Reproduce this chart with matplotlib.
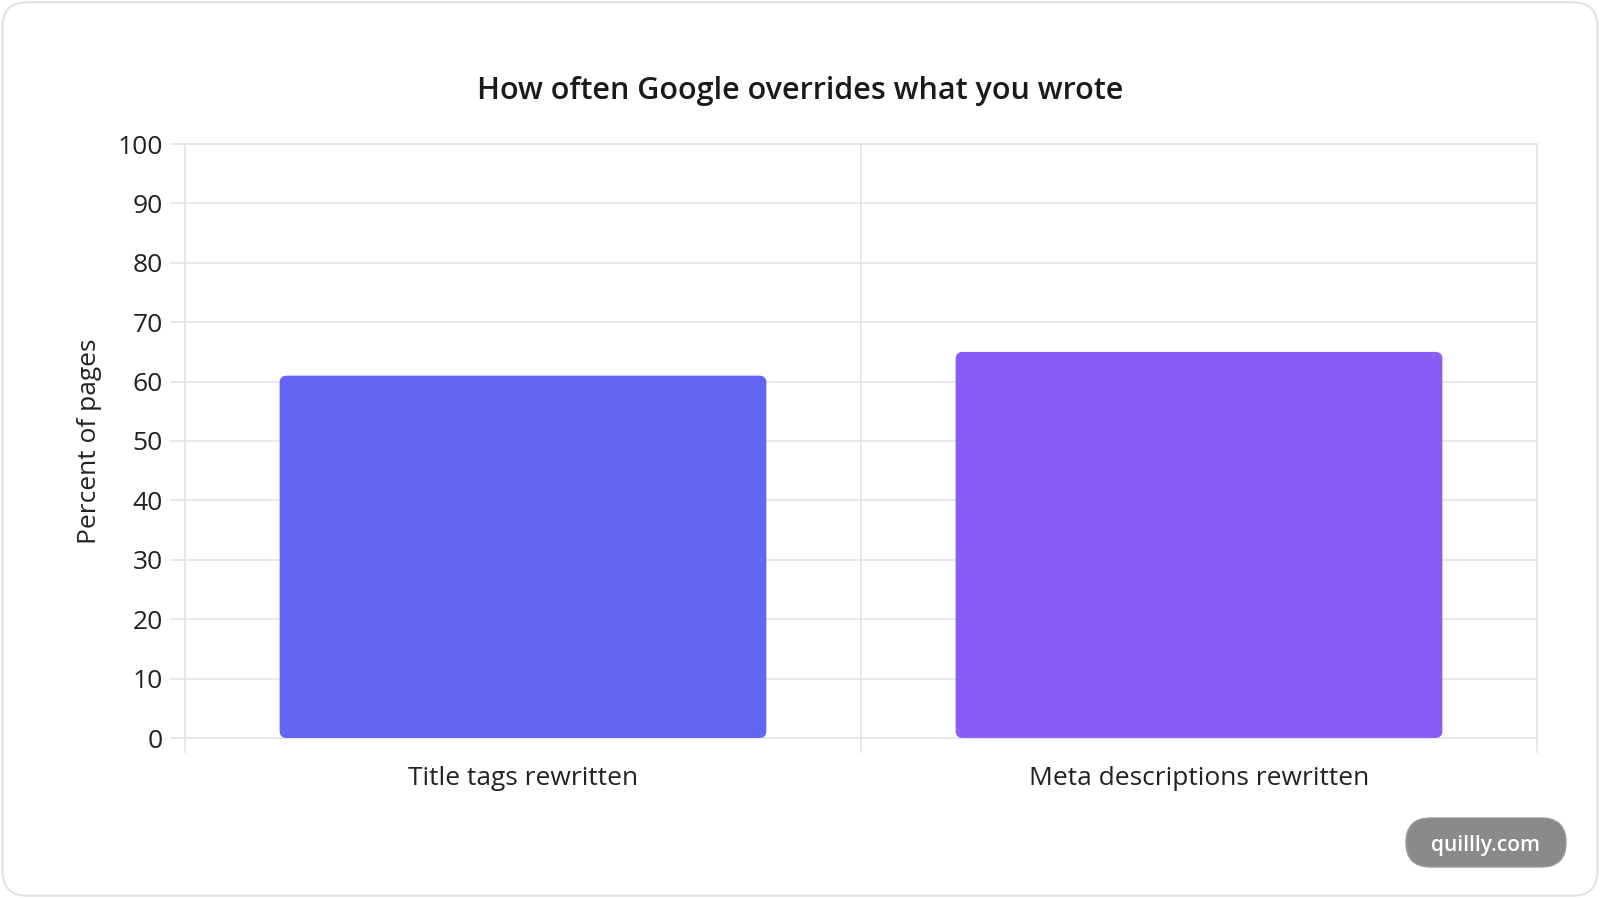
import matplotlib
matplotlib.use("Agg")
import matplotlib.pyplot as plt
from matplotlib.patches import FancyBboxPatch
import numpy as np

plt.rcParams['font.family'] = ['Open Sans', 'DejaVu Sans']

categories = ['Title tags rewritten', 'Meta descriptions rewritten']
values = [61, 65]
colors = ['#6366F1', '#8B5CF6']
yticks = list(range(0, 101, 10))

W, H = 1600, 898
fig = plt.figure(figsize=(W / 100, H / 100), dpi=100)

# card border
fig.patches.append(FancyBboxPatch((0.0015, 0.0025), 0.997, 0.995,
                                  boxstyle='round,pad=0,rounding_size=0.0156',
                                  mutation_aspect=W / H, transform=fig.transFigure,
                                  facecolor='white', edgecolor='#e2e2e2', lw=1.5, zorder=-10))

ax = fig.add_axes([185 / W, 1 - 738 / H, (1537 - 185) / W, (738 - 144) / H])
ax.set_facecolor('none')
ax.set_xlim(-0.5, len(categories) - 0.5)
ax.set_ylim(0, 100)

# bars with rounded corners
bw = 0.72
px_x = (len(categories)) / (1537 - 185)
px_y = 100 / (738 - 144)
for i, (v, c) in enumerate(zip(values, colors)):
    p = FancyBboxPatch((i - bw / 2, 0), bw, v,
                       boxstyle='round,pad=0,rounding_size=%f' % (7 * px_x),
                       mutation_aspect=px_y / px_x,
                       facecolor=c, edgecolor='none', zorder=3)
    ax.add_patch(p)

ax.set_yticks(yticks)
ax.set_xticks(range(len(categories)))
ax.set_xticklabels(categories)
ax.set_xticks(np.arange(-0.5, len(categories), 1.0), minor=True)

ax.grid(True, axis='y', color='#e5e5e5', lw=1.2, zorder=0)
ax.grid(True, axis='x', which='minor', color='#e5e5e5', lw=1.2, zorder=0)
ax.tick_params(axis='y', length=11, width=1.2, color='#e5e5e5', pad=5,
               labelsize=19, labelcolor='#222222')
ax.tick_params(axis='x', which='major', length=0, pad=20,
               labelsize=19, labelcolor='#222222')
ax.tick_params(axis='x', which='minor', length=11, width=1.2, color='#e5e5e5')
for s in ax.spines.values():
    s.set_color('#e5e5e5')
    s.set_linewidth(1.2)

ax.set_ylabel('Percent of pages', fontsize=19, color='#222222', labelpad=11)

fig.text(0.5, 1 - 91 / H, 'How often Google overrides what you wrote',
         ha='center', va='center', fontsize=22, fontweight='semibold', color='#1a1a1a')

# watermark pill
px0, py0, pw, ph = 1406, 818, 160, 49
fig.patches.append(FancyBboxPatch((px0 / W, 1 - (py0 + ph) / H), pw / W, ph / H,
                                  boxstyle='round,pad=0,rounding_size=%f' % (ph / 2 / W),
                                  mutation_aspect=W / H, transform=fig.transFigure,
                                  facecolor='#8a8a8a', edgecolor='#9a9a9a', lw=1, zorder=5))
fig.text((px0 + pw / 2) / W, 1 - (py0 + ph / 2 + 3) / H, 'quillly.com', ha='center', va='center',
         fontsize=15, color='white', fontweight='semibold', zorder=6)

fig.savefig('out.png', dpi=100, facecolor='white')
